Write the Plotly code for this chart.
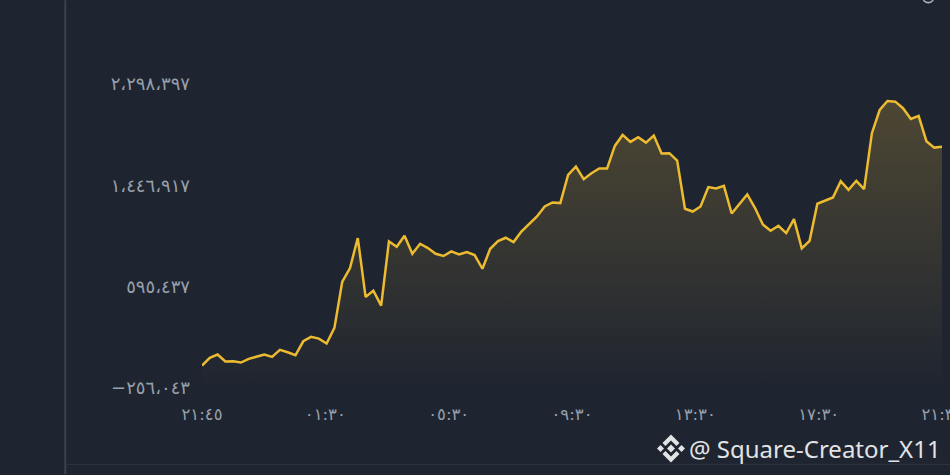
import plotly.graph_objects as go

values_k = [-67.3, -2.7, 25, -33.7, -31.2, -42.1, -11, 8.2, 25, 5.7, 64.4, 44.3, 19.1, 136.6, 173.5, 159.2,
            117.3, 249, 634.9, 752.3, 1004, 509, 562, 436, 975.5, 931, 1023, 872, 956, 920, 872, 853,
            891.6, 866, 886.6, 861, 746, 914, 979, 1006.5, 970.5, 1059, 1124, 1185, 1269, 1303, 1297.6, 1535,
            1604.6, 1499, 1549, 1588, 1588, 1778, 1870.6, 1812, 1851, 1806, 1864.7, 1713.7, 1717, 1655, 1250, 1227,
            1269, 1432, 1420, 1443, 1210, 1292, 1370, 1256, 1118, 1065, 1107, 1046, 1163, 917, 981, 1292,
            1319, 1345, 1482, 1409, 1485, 1415, 1885, 2080, 2156, 2150, 2095, 2005, 2030, 1818, 1764, 1772]
y_ticks = [-256043, 595437, 1446917, 2298397]
y_labels = ["−٢٥٦،٠٤٣", "٥٩٥،٤٣٧", "١،٤٤٦،٩١٧", "٢،٢٩٨،٣٩٧"]
x_labels = ["٢١:٤٥", "٠١:٣٠", "٠٥:٣٠", "٠٩:٣٠", "١٣:٣٠", "١٧:٣٠", "٢١:٣٠"]
watermark = "@ Square-Creator_X11"

values = [v * 1000 for v in values_k]
xs = list(range(len(values)))
last = xs[-1]
x_ticks = [last * i / (len(x_labels) - 1) for i in range(len(x_labels))]

W, H = 950, 475
L, R, T, B = 201.7, 8.3, 84, 86.5
def px(x): return (x - L) / (W - L - R)
def py(y): return 1 - (y - T) / (H - T - B)
def poly(pts):
    return "M" + " L".join(f"{px(a):.5f},{py(b):.5f}" for a, b in pts) + " Z"

fig = go.Figure()
fig.add_trace(go.Scatter(x=xs, y=[y_ticks[0]] * len(xs), mode="lines", line=dict(width=0),
                         hoverinfo="skip", showlegend=False))
fig.add_trace(go.Scatter(
    x=xs, y=values, mode="lines", fill="tonexty",
    line=dict(color="#ecbb30", width=2.5), showlegend=False,
    fillgradient=dict(type="vertical",
                      colorscale=[[0, "rgba(240,190,60,0)"], [1, "rgba(240,190,60,0.22)"]]),
))

lines = dict(type="line", xref="paper", yref="paper", layer="below")
shapes = [
    dict(lines, x0=px(65), x1=px(65), y0=py(0), y1=py(475), line=dict(color="#3a424e", width=2)),
    dict(lines, x0=px(65), x1=px(950), y0=py(465), y1=py(465), line=dict(color="#2f3641", width=1)),
    dict(type="path", xref="paper", yref="paper",
         path=f"M{px(923):.5f},{py(0):.5f} Q{px(928):.5f},{py(5):.5f} {px(933):.5f},{py(0):.5f}",
         line=dict(color="#aab0b8", width=1.5)),
]
cx, cy = 670.7, 449
logo = [
    [(cx, cy - 4), (cx + 4, cy), (cx, cy + 4), (cx - 4, cy)],
    [(cx - 14, cy), (cx - 10.5, cy - 3.5), (cx - 7, cy), (cx - 10.5, cy + 3.5)],
    [(cx + 14, cy), (cx + 10.5, cy - 3.5), (cx + 7, cy), (cx + 10.5, cy + 3.5)],
    [(cx, cy - 14), (cx + 8.5, cy - 5.5), (cx + 5.5, cy - 2.5), (cx, cy - 8), (cx - 5.5, cy - 2.5), (cx - 8.5, cy - 5.5)],
    [(cx, cy + 14), (cx + 8.5, cy + 5.5), (cx + 5.5, cy + 2.5), (cx, cy + 8), (cx - 5.5, cy + 2.5), (cx - 8.5, cy + 5.5)],
]
for p in logo:
    shapes.append(dict(type="path", xref="paper", yref="paper", path=poly(p),
                       fillcolor="#e2e3e5", line=dict(width=0)))

fig.update_layout(
    width=W, height=H, margin=dict(l=L, r=R, t=T, b=B, autoexpand=False),
    paper_bgcolor="#1f2530", plot_bgcolor="#1f2530",
    font=dict(family="DejaVu Sans", color="#98a0ac", size=17),
    shapes=shapes,
    annotations=[dict(text=watermark, xref="paper", yref="paper", x=px(687), y=py(449),
                      xanchor="left", yanchor="middle", showarrow=False,
                      font=dict(family="Noto Sans", size=24, color="#e2e3e5"))],
    xaxis=dict(range=[0, last], tickvals=x_ticks, ticktext=x_labels, showgrid=False, zeroline=False, automargin=False,
               showline=False, ticks="", ticklabelstandoff=14, ticklabeloverflow="allow",
               tickfont=dict(size=16.5)),
    yaxis=dict(range=[y_ticks[0], y_ticks[-1]], tickvals=y_ticks, ticktext=y_labels, showgrid=False, automargin=False,
               zeroline=False, showline=False, ticks="", ticklabelstandoff=11, ticklabeloverflow="allow",
               tickfont=dict(size=18)),
)
fig.write_html("out.html", config={"displayModeBar": False},
               post_script="document.body.style.margin='0';document.body.style.background='#1f2530';")
